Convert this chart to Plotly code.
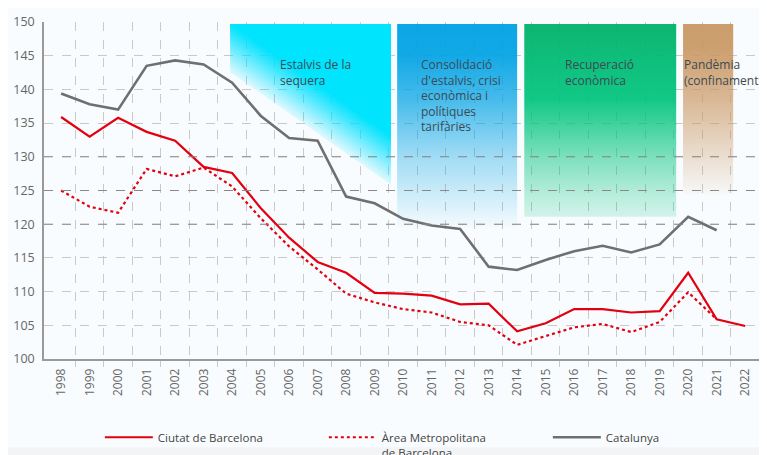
import plotly.graph_objects as go

years = list(range(1998, 2023))
ciutat = [135.9, 133.0, 135.8, 133.7, 132.4, 128.5, 127.6, 122.4, 118.0, 114.4, 112.8,
          109.8, 109.7, 109.4, 108.1, 108.2, 104.1, 105.3, 107.4, 107.4, 106.9, 107.1,
          112.8, 105.9, 104.9]
area_years = list(range(1998, 2022))
area = [125.0, 122.6, 121.7, 128.2, 127.1, 128.4, 125.6, 120.9, 116.7, 113.3, 109.7,
        108.4, 107.4, 106.9, 105.5, 105.0, 102.1, 103.4, 104.7, 105.2, 104.0, 105.5,
        109.9, 105.9]
cat_years = list(range(1998, 2022))
catalunya = [139.4, 137.8, 137.0, 143.5, 144.3, 143.7, 141.0, 136.1, 132.8, 132.4, 124.1,
             123.1, 120.8, 119.8, 119.3, 113.7, 113.2, 114.7, 116.0, 116.8, 115.8, 117.0,
             121.1, 119.1]

period_labels = ["Estalvis de la<br>sequera",
                 "Consolidació<br>d'estalvis, crisi<br>econòmica i<br>polítiques<br>tarifàries",
                 "Recuperació<br>econòmica",
                 "Pandèmia<br>(confinaments)"]
period_start = [2003.93, 2009.79, 2014.25, 2019.82]
period_end = [2009.57, 2014.0, 2019.58, 2021.58]
label_x = [2005.6, 2010.55, 2015.6, 2019.78]

RED = "#e3000f"
GREY = "#6f6f6f"
TOP = 149.7

fig = go.Figure()

# --- cyan period: diagonal fade built from stacked layers ---
x0, x1 = period_start[0], period_end[0]
low_l, low_r = 142.6, 125.9
T = 7.0
N = 14
def clip(v):
    return min(v, TOP)
prev_c = 0.0
for i in range(N + 1):
    c = 0.14 + 0.86 * i / N
    a = 1 - (1 - c) / (1 - prev_c) if prev_c < 1 else 0
    prev_c = c
    l0, l1 = low_l + i * T / N, low_r + i * T / N
    fig.add_trace(go.Scatter(
        x=[x0, x1, x1, x0, x0],
        y=[clip(l0), clip(l1), TOP, TOP, clip(l0)],
        fill="toself", mode="lines", line=dict(width=0),
        fillcolor=f"rgba(0,228,253,{a:.4f})",
        hoverinfo="skip", showlegend=False))

def grad_box(xs, xe, bottom, scale):
    fig.add_trace(go.Scatter(
        x=[xs, xe, xe, xs, xs], y=[bottom, bottom, TOP, TOP, bottom],
        fill="toself", mode="lines", line=dict(width=0),
        fillgradient=dict(type="vertical", start=bottom, stop=TOP, colorscale=scale),
        hoverinfo="skip", showlegend=False))

grad_box(period_start[1], period_end[1], 119.5,
         [[0, "rgba(0,162,228,0.02)"], [0.35, "rgba(0,162,228,0.36)"],
          [0.63, "rgba(0,162,228,0.72)"], [0.85, "rgba(0,162,228,0.93)"],
          [1, "rgba(0,162,228,0.95)"]])
grad_box(period_start[2], period_end[2], 121.1,
         [[0, "rgba(0,196,125,0.16)"], [0.1, "rgba(0,196,125,0.25)"],
          [0.31, "rgba(0,196,125,0.5)"], [0.61, "rgba(0,196,125,0.93)"],
          [1, "rgba(0,178,106,0.95)"]])
grad_box(period_start[3], period_end[3], 124.4,
         [[0, "rgba(201,152,100,0.04)"], [0.22, "rgba(201,152,100,0.3)"],
          [0.56, "rgba(201,152,100,0.68)"], [0.85, "rgba(201,152,100,0.92)"],
          [1, "rgba(201,152,100,0.95)"]])

for lab, lx in zip(period_labels, label_x):
    fig.add_annotation(x=lx, y=145.3, text=lab, showarrow=False, xanchor="left",
                       yanchor="top", align="left",
                       font=dict(size=12, color="#3b4a55", family="Open Sans"))

# darker grid lines
for yv in [120, 125, 130]:
    fig.add_hline(y=yv, line=dict(color="#8a8a8a", width=1, dash="dash"), layer="above")

fig.add_trace(go.Scatter(x=years, y=ciutat, mode="lines", name="Ciutat de Barcelona",
                         line=dict(color=RED, width=2.2)))
fig.add_trace(go.Scatter(x=area_years, y=area, mode="lines",
                         name="Àrea Metropolitana<br>de Barcelona",
                         line=dict(color=RED, width=2.2, dash="dot")))
fig.add_trace(go.Scatter(x=cat_years, y=catalunya, mode="lines", name="Catalunya",
                         line=dict(color=GREY, width=2.6)))

fig.add_shape(type="rect", xref="paper", yref="paper", x0=-0.07, x1=1.02,
              y0=-0.3, y1=-0.262, fillcolor="#f3f4f5", line=dict(width=0), layer="below")

fig.update_layout(
    width=759, height=447,
    margin=dict(l=36, r=7, t=14, b=96),
    paper_bgcolor="#f9fcfe", plot_bgcolor="#f9fcfe",
    font=dict(family="Open Sans", size=12, color="#555"),
    showlegend=True,
    legend=dict(orientation="h", xref="container", yref="container",
                x=0.121, y=0.071, xanchor="left", yanchor="top",
                entrywidth=161, entrywidthmode="pixels", valign="top", itemwidth=48,
                font=dict(size=11.5, color="#444"), bgcolor="rgba(0,0,0,0)",
                traceorder="normal"),
)
fig.update_xaxes(range=[1997.4, 2022.52], tickmode="linear", tick0=1998, dtick=1,
                 tickformat="d", tickangle=-90, showgrid=False, zeroline=False,
                 automargin=False,
                 showline=True, linecolor="#9a9a9a", linewidth=1.5, ticks="",
                 ticklabelstandoff=3, tickfont=dict(size=12, color="#666"),
                 minor=dict(tickmode="array", tickvals=[y + 0.5 for y in range(1998, 2022)],
                            showgrid=True, gridcolor="#c9c9c9", griddash="dash", gridwidth=1,
                            ticks="outside", ticklen=6, tickcolor="#c9c9c9"))
fig.update_yaxes(range=[100, 150], tickmode="linear", tick0=100, dtick=5,
                 automargin=False,
                 showgrid=True, gridcolor="#c9c9c9", griddash="dash", gridwidth=1,
                 zeroline=False, showline=True, linecolor="#9a9a9a", linewidth=1.5,
                 ticks="", ticklabelstandoff=5, tickfont=dict(size=12.5, color="#666"))

fig.write_html("out.html")
